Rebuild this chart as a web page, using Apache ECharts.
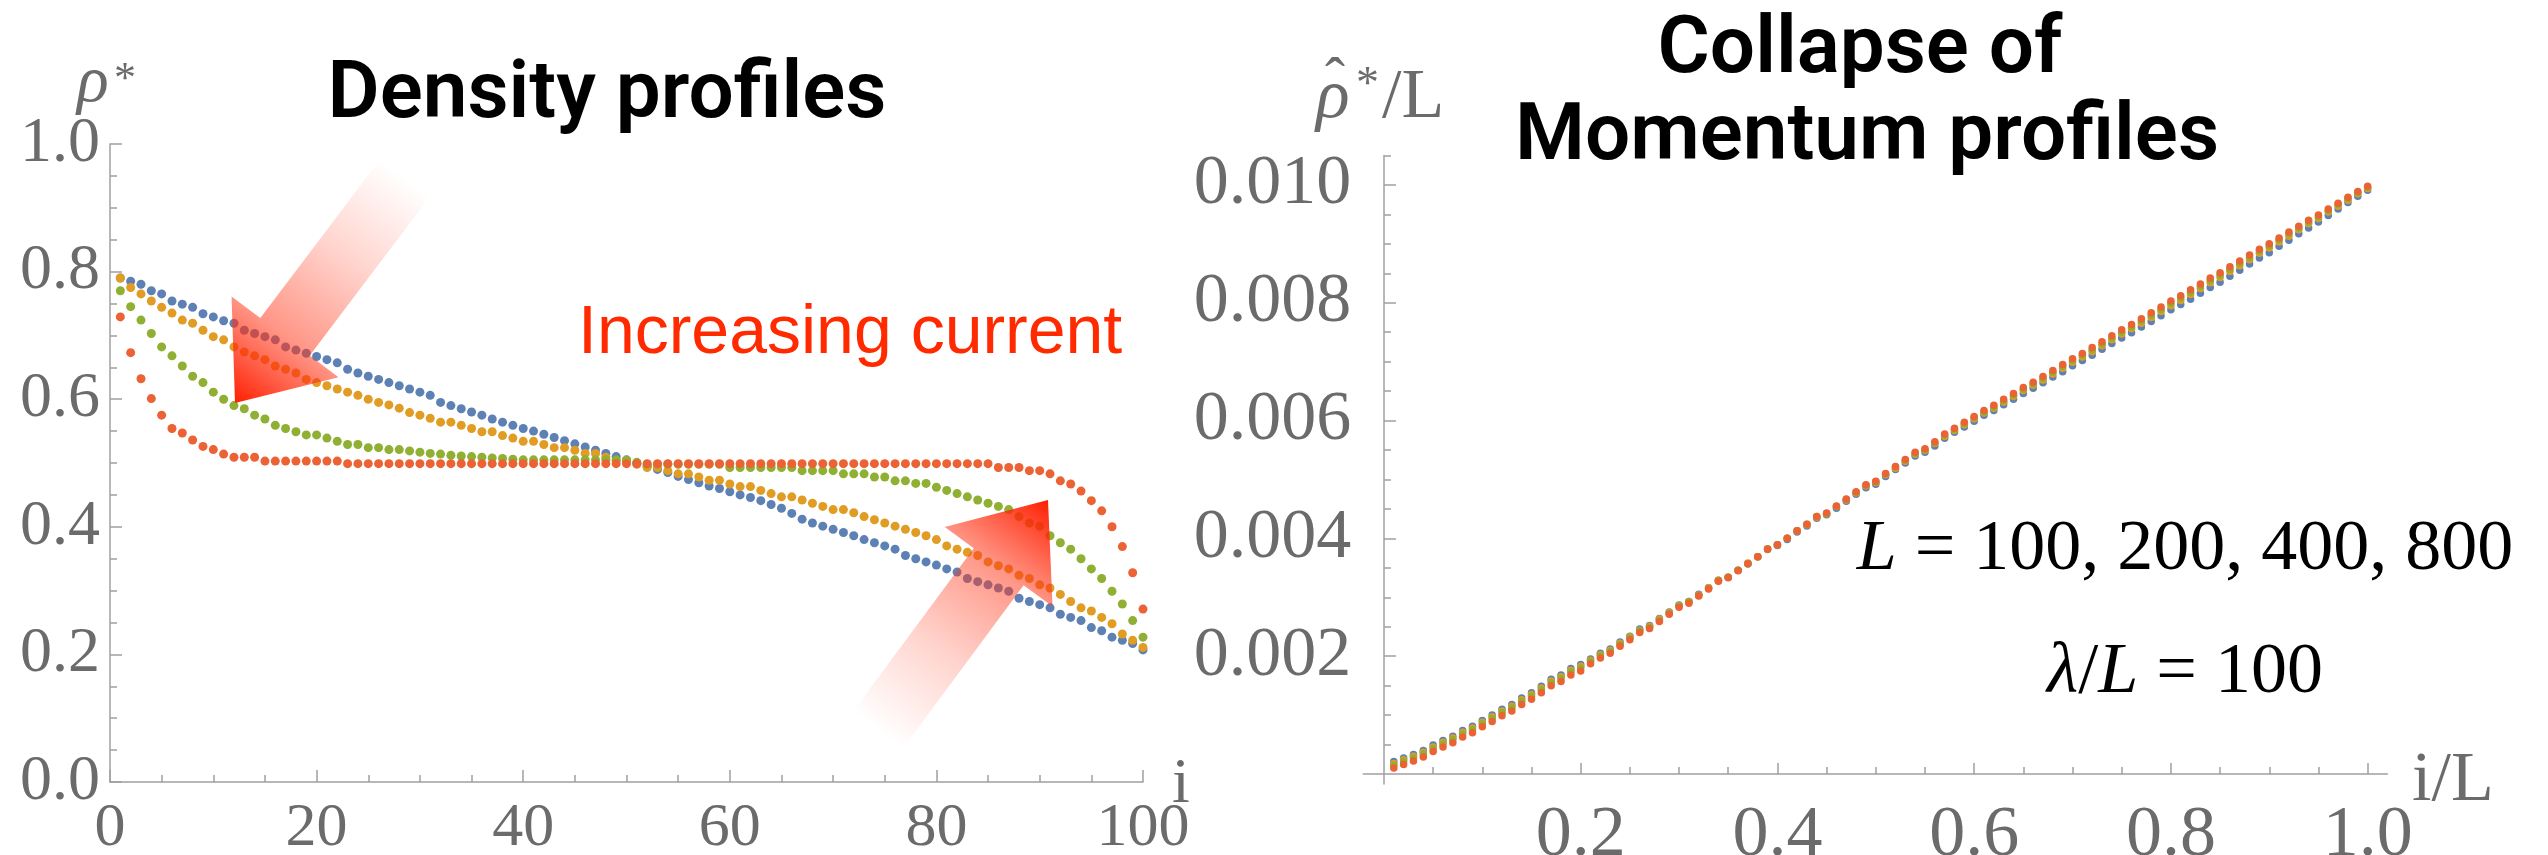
<!DOCTYPE html>
<html>
<head>
<meta charset="utf-8">
<title>Density and momentum profiles</title>
<script src="https://cdn.jsdelivr.net/npm/echarts@6/dist/echarts.min.js"></script>
<style>
  html, body { margin: 0; padding: 0; background: #fff; }
  #chart { width: 2548px; height: 855px; }
</style>
</head>
<body>
<div id="chart"></div>
<script>
// site index i (left panel x), also i/L * 100 on the right panel
const siteIndex = [
  1, 2, 3, 4, 5, 6, 7, 8, 9, 10, 11, 12, 13, 14, 15, 16, 17, 18, 19, 20,
  21, 22, 23, 24, 25, 26, 27, 28, 29, 30, 31, 32, 33, 34, 35, 36, 37, 38, 39, 40,
  41, 42, 43, 44, 45, 46, 47, 48, 49, 50, 51, 52, 53, 54, 55, 56, 57, 58, 59, 60,
  61, 62, 63, 64, 65, 66, 67, 68, 69, 70, 71, 72, 73, 74, 75, 76, 77, 78, 79, 80,
  81, 82, 83, 84, 85, 86, 87, 88, 89, 90, 91, 92, 93, 94, 95, 96, 97, 98, 99, 100
];

// density profiles rho*, in thousandths
const densityBlue = [
  790, 785, 780, 770, 765, 754, 749, 744, 734, 729,
  723, 719, 708, 703, 698, 693, 682, 677, 672, 667,
  662, 657, 647, 641, 636, 631, 626, 621, 616, 611,
  606, 595, 590, 585, 580, 575, 569, 564, 559, 554,
  550, 545, 540, 535, 530, 525, 520, 515, 510, 505,
  500, 495, 490, 485, 479, 474, 469, 464, 460, 455,
  450, 446, 441, 435, 429, 421, 412, 406, 401, 396,
  391, 386, 380, 375, 370, 365, 355, 350, 345, 340,
  334, 329, 319, 314, 309, 304, 299, 288, 283, 278,
  273, 263, 258, 253, 242, 237, 227, 222, 217, 207
];
const densityOrange = [
  790, 775, 765, 754, 744, 735, 724, 719, 708, 698,
  693, 682, 674, 668, 662, 652, 647, 641, 631, 626,
  621, 616, 611, 606, 600, 595, 591, 586, 579, 575,
  570, 564, 564, 559, 554, 549, 549, 543, 539, 534,
  534, 529, 524, 524, 520, 515, 515, 509, 504, 504,
  498, 493, 493, 488, 483, 483, 478, 473, 473, 467,
  463, 463, 457, 452, 447, 447, 442, 437, 432, 427,
  427, 422, 416, 411, 406, 401, 396, 391, 386, 380,
  370, 365, 360, 355, 345, 339, 334, 324, 319, 309,
  304, 294, 283, 273, 268, 258, 248, 232, 222, 211
];
const densityGreen = [
  770, 745, 724, 703, 682, 668, 652, 636, 626, 611,
  600, 590, 585, 575, 569, 559, 554, 549, 544, 544,
  539, 534, 529, 529, 524, 524, 521, 521, 519, 517,
  515, 514, 512, 511, 510, 509, 508, 507, 506, 505,
  505, 505, 505, 505, 505, 505, 505, 505, 505, 504,
  501, 498, 498, 498, 498, 498, 498, 498, 498, 493,
  493, 493, 493, 493, 493, 493, 488, 488, 488, 488,
  483, 483, 483, 478, 478, 472, 472, 468, 468, 462,
  457, 452, 447, 442, 437, 432, 427, 416, 406, 401,
  386, 375, 365, 350, 334, 319, 299, 279, 253, 227
];
const densityRed = [
  729, 673, 632, 601, 575, 554, 547, 536, 526, 521,
  514, 509, 509, 509, 503, 503, 503, 503, 503, 503,
  503, 503, 499, 499, 499, 499, 499, 499, 499, 499,
  499, 499, 499, 499, 499, 499, 499, 499, 499, 499,
  499, 499, 499, 499, 499, 499, 499, 499, 499, 499,
  499, 499, 499, 499, 499, 499, 499, 499, 499, 499,
  499, 499, 499, 499, 499, 499, 499, 499, 499, 499,
  499, 499, 499, 499, 499, 499, 499, 499, 499, 499,
  499, 499, 499, 499, 499, 493, 493, 493, 488, 488,
  483, 472, 467, 456, 441, 425, 400, 369, 328, 271
];

// momentum profiles rho-hat*/L, in units of 1e-5
const momentumBlue = [
  21, 27, 33, 40, 49, 57, 64, 74, 81, 91,
  100, 110, 118, 129, 138, 149, 161, 168, 179, 186,
  195, 205, 212, 224, 234, 246, 252, 264, 275, 287,
  293, 305, 316, 329, 334, 346, 357, 369, 381, 388,
  398, 411, 421, 434, 440, 451, 463, 475, 486, 492,
  505, 517, 528, 540, 546, 557, 570, 580, 589, 599,
  609, 617, 627, 636, 646, 655, 664, 674, 683, 693,
  702, 711, 721, 731, 740, 749, 759, 768, 778, 788,
  797, 806, 816, 826, 835, 845, 855, 866, 876, 885,
  896, 906, 917, 927, 937, 948, 959, 970, 981, 991
];
const momentumOrange = [
  18, 24, 30, 37, 46, 54, 61, 71, 78, 88,
  97, 107, 115, 126, 135, 146, 158, 165, 176, 183,
  193, 203, 210, 222, 233, 244, 251, 263, 274, 286,
  293, 304, 316, 329, 334, 346, 358, 369, 382, 389,
  400, 413, 423, 436, 442, 454, 465, 477, 489, 495,
  508, 519, 531, 543, 549, 561, 573, 583, 593, 603,
  613, 621, 631, 641, 651, 660, 669, 679, 689, 699,
  708, 717, 727, 737, 747, 756, 765, 775, 785, 795,
  804, 814, 824, 834, 843, 853, 863, 873, 884, 893,
  903, 913, 924, 934, 943, 954, 964, 974, 985, 994
];
const momentumGreen = [
  15, 21, 27, 34, 43, 51, 58, 68, 75, 85,
  94, 104, 112, 123, 132, 143, 155, 162, 173, 180,
  191, 201, 208, 220, 231, 243, 249, 261, 273, 285,
  292, 303, 315, 328, 334, 346, 357, 369, 382, 389,
  400, 413, 424, 437, 442, 454, 466, 478, 490, 496,
  509, 521, 532, 544, 550, 562, 575, 585, 595, 605,
  614, 623, 633, 643, 653, 662, 672, 682, 692, 702,
  711, 720, 730, 740, 750, 759, 769, 779, 789, 799,
  808, 818, 828, 838, 847, 857, 867, 877, 888, 897,
  907, 917, 927, 937, 946, 956, 967, 977, 987, 996
];
const momentumRed = [
  10, 16, 22, 29, 38, 46, 53, 63, 70, 80,
  89, 99, 107, 118, 127, 138, 150, 157, 168, 175,
  187, 197, 205, 217, 228, 240, 247, 259, 271, 283,
  290, 302, 314, 327, 333, 345, 357, 369, 382, 389,
  400, 413, 424, 437, 443, 455, 467, 479, 491, 497,
  510, 522, 534, 546, 552, 564, 577, 587, 597, 607,
  617, 626, 636, 646, 656, 665, 675, 685, 695, 705,
  714, 724, 734, 744, 754, 763, 773, 783, 793, 803,
  812, 822, 832, 842, 851, 861, 871, 881, 891, 900,
  910, 920, 930, 940, 949, 959, 969, 979, 989, 998
];

// tick values
const densityYTicks = [0, 0.2, 0.4, 0.6, 0.8, 1.0];
const momentumXMajor = [0.2, 0.4, 0.6, 0.8, 1.0];
const momentumXMinor = [0.05, 0.1, 0.15, 0.25, 0.3, 0.35, 0.45, 0.5, 0.55, 0.65, 0.7, 0.75, 0.85, 0.9, 0.95];
const momentumYMajor = [0.002, 0.004, 0.006, 0.008, 0.010];
const momentumYMinor = [0.0005, 0.001, 0.0015, 0.0025, 0.003, 0.0035, 0.0045, 0.005, 0.0055,
  0.0065, 0.007, 0.0075, 0.0085, 0.009, 0.0095, 0.0105];

const colors = ['#5e81b5', '#e19c24', '#8fb032', '#eb6235'];
const densitySets = [densityBlue, densityOrange, densityGreen, densityRed];
const momentumSets = [momentumBlue, momentumOrange, momentumGreen, momentumRed];

const axisGray = '#a0a0a0';
const labelGray = '#6b6b6b';
const serif = '"Liberation Serif", "DejaVu Serif", serif';

const lineStyle = { color: axisGray, width: 1.5 };

function valueAxis(extra) {
  return Object.assign({
    type: 'value',
    splitLine: { show: false },
    minorSplitLine: { show: false },
    axisLine: { show: true, onZero: true, lineStyle: lineStyle },
    axisTick: { show: true, inside: true, length: 12, lineStyle: lineStyle },
    axisLabel: { fontFamily: serif, color: labelGray, fontSize: 64 }
  }, extra);
}

// arrow polygon from tail centre to tip
function arrowPoints(tail, tip, shaftHalf, headHalf, headLen) {
  const dx = tip[0] - tail[0], dy = tip[1] - tail[1];
  const len = Math.hypot(dx, dy);
  const ux = dx / len, uy = dy / len;
  const px = -uy, py = ux;
  const bx = tip[0] - ux * headLen, by = tip[1] - uy * headLen;
  return [
    [tail[0] + px * shaftHalf, tail[1] + py * shaftHalf],
    [bx + px * shaftHalf, by + py * shaftHalf],
    [bx + px * headHalf, by + py * headHalf],
    tip,
    [bx - px * headHalf, by - py * headHalf],
    [bx - px * shaftHalf, by - py * shaftHalf],
    [tail[0] - px * shaftHalf, tail[1] - py * shaftHalf]
  ];
}

function arrow(tail, tip) {
  return {
    type: 'polygon',
    z: 100,
    silent: true,
    shape: { points: arrowPoints(tail, tip, 31, 67, 83) },
    style: {
      fill: {
        type: 'linear', global: true,
        x: tail[0], y: tail[1], x2: tip[0], y2: tip[1],
        colorStops: [
          { offset: 0, color: 'rgba(255, 60, 30, 0)' },
          { offset: 0.35, color: 'rgba(255, 60, 30, 0.22)' },
          { offset: 0.7, color: 'rgba(255, 55, 25, 0.52)' },
          { offset: 1, color: 'rgba(255, 30, 0, 1)' }
        ]
      }
    }
  };
}

function label(text, x, y, font, fill, align) {
  return {
    type: 'text', z: 110, silent: true,
    style: { text: text, x: x, y: y, font: font, fill: fill, align: align || 'left', verticalAlign: 'middle' }
  };
}

const chart = echarts.init(document.getElementById('chart'));

const series = [];
densitySets.forEach((values, k) => {
  series.push({
    type: 'scatter', xAxisIndex: 0, yAxisIndex: 0, silent: true,
    symbolSize: 9, itemStyle: { color: colors[k], opacity: 1 },
    data: siteIndex.map((i, n) => [i, values[n] / 1000])
  });
});
momentumSets.forEach((values, k) => {
  series.push({
    type: 'scatter', xAxisIndex: 1, yAxisIndex: 1, silent: true,
    symbolSize: 7.5, itemStyle: { color: colors[k], opacity: 1 },
    data: siteIndex.map((i, n) => [i / 100, values[n] / 100000])
  });
});

chart.setOption({
  animation: false,
  backgroundColor: '#fff',
  grid: [
    { left: 110, top: 144, width: 1033, height: 638, outerBoundsMode: 'none' },
    { left: 1363.3, top: 155.5, width: 1024, height: 628.5, outerBoundsMode: 'none' }
  ],
  xAxis: [
    valueAxis({
      gridIndex: 0, min: 0, max: 100, interval: 20,
      minorTick: { show: true, splitNumber: 4, length: 7, lineStyle: lineStyle },
      axisLabel: { fontFamily: serif, color: labelGray, fontSize: 62, margin: 16, showMinLabel: true, showMaxLabel: true }
    }),
    valueAxis({
      gridIndex: 1, min: -0.021, max: 1.02, position: 'bottom',
      axisTick: { show: true, inside: true, length: 11, lineStyle: lineStyle, customValues: momentumXMajor },
      axisLabel: { fontFamily: serif, color: labelGray, fontSize: 72, margin: 16,
        customValues: momentumXMajor, formatter: v => v.toFixed(1) }
    }),
    valueAxis({
      gridIndex: 1, min: -0.021, max: 1.02, position: 'bottom',
      axisLine: { show: false, onZero: true },
      axisTick: { show: true, inside: true, length: 7, lineStyle: lineStyle, customValues: momentumXMinor },
      axisLabel: { show: false }
    })
  ],
  yAxis: [
    valueAxis({
      gridIndex: 0, min: 0, max: 1, interval: 0.2,
      minorTick: { show: true, splitNumber: 4, length: 7, lineStyle: lineStyle },
      axisLabel: { fontFamily: serif, color: labelGray, fontSize: 64, margin: 10,
        customValues: densityYTicks, formatter: v => v.toFixed(1) }
    }),
    valueAxis({
      gridIndex: 1, min: -0.00017, max: 0.0105, position: 'left',
      axisTick: { show: true, inside: true, length: 12, lineStyle: lineStyle, customValues: momentumYMajor },
      axisLabel: { fontFamily: serif, color: labelGray, fontSize: 70, margin: 12,
        customValues: momentumYMajor, formatter: v => v.toFixed(3) }
    }),
    valueAxis({
      gridIndex: 1, min: -0.00017, max: 0.0105, position: 'left',
      axisLine: { show: false, onZero: true },
      axisTick: { show: true, inside: true, length: 7, lineStyle: lineStyle, customValues: momentumYMinor },
      axisLabel: { show: false }
    })
  ],
  series: series,
  graphic: [
    arrow([405, 178], [235, 403]),
    arrow([878, 730], [1048, 500]),
    label('Density profiles', 607, 97, '600 80px Roboto, "Liberation Sans", sans-serif', '#000', 'center'),
    label('Collapse of', 1860, 52, '600 80px Roboto, "Liberation Sans", sans-serif', '#000', 'center'),
    label('Momentum profiles', 1867, 139, '600 80px Roboto, "Liberation Sans", sans-serif', '#000', 'center'),
    label('Increasing current', 578, 334, '68px "Liberation Sans", Arial, sans-serif', '#ff2a00'),
    // rho* axis name
    label('ρ', 77, 84, 'italic 66px ' + serif, labelGray),
    label('*', 114, 80, '44px ' + serif, labelGray),
    // rho-hat*/L axis name
    label('ρ', 1316, 99, 'italic 70px ' + serif, labelGray),
    label('ˆ', 1335, 82, '60px ' + serif, labelGray, 'center'),
    label('*', 1356, 86, '46px ' + serif, labelGray),
    label('/L', 1382, 99, '70px ' + serif, labelGray),
    // x axis names
    label('i', 1172, 785, '64px ' + serif, labelGray),
    label('i/L', 2412, 782, '70px ' + serif, labelGray),
    // parameter annotations
    {
      type: 'text', z: 110, silent: true,
      style: {
        text: '{i|L} = 100, 200, 400, 800', x: 2185, y: 550, align: 'center', verticalAlign: 'middle',
        font: '72px ' + serif, fill: '#000',
        rich: { i: { fontStyle: 'italic', fontSize: 72, fontFamily: serif, fill: '#000' } }
      }
    },
    {
      type: 'text', z: 110, silent: true,
      style: {
        text: '{i|λ}/{i|L} = 100', x: 2185, y: 673, align: 'center', verticalAlign: 'middle',
        font: '72px ' + serif, fill: '#000',
        rich: { i: { fontStyle: 'italic', fontSize: 72, fontFamily: serif, fill: '#000' } }
      }
    }
  ]
});
</script>
</body>
</html>
